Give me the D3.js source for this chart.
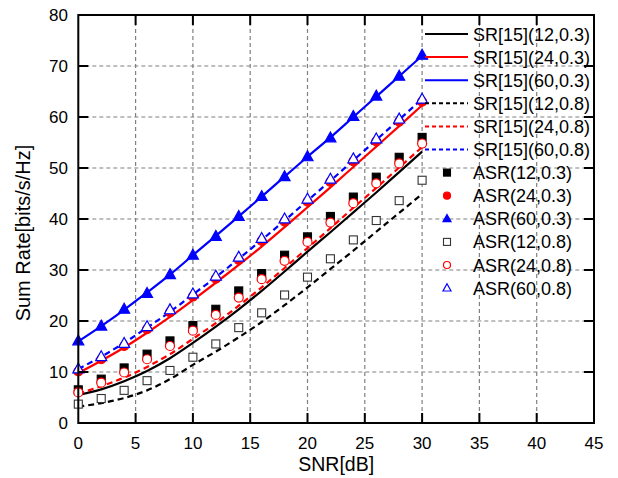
<!DOCTYPE html>
<html>
<head>
<meta charset="utf-8">
<script src="https://cdn.jsdelivr.net/npm/d3@7"></script>
<style>
  body { margin: 0; background: #fff; }
  text { font-family: "Liberation Sans", Arial, sans-serif; fill: #000; }
</style>
</head>
<body>
<div id="chart"></div>
<script>
// SNR points (dB)
var snr = [0, 2, 4, 6, 8, 10, 12, 14, 16, 18, 20, 22, 24, 26, 28, 30];

// analytic curves SR[15](N, rho)
var sr_12_03 = [5.5, 6.6, 8.2, 10.2, 12.7, 15.7, 18.9, 22.3, 25.9, 29.7, 33.6, 37.4, 41.3, 45.2, 49.2, 53.2];
var sr_24_03 = [9.8, 12.2, 14.8, 17.7, 20.8, 24.1, 27.5, 31.0, 34.6, 38.4, 42.3, 46.2, 50.2, 54.2, 58.2, 62.3];
var sr_60_03 = [16.0, 19.0, 22.2, 25.6, 29.1, 32.9, 36.7, 40.5, 44.4, 48.3, 52.2, 56.0, 60.0, 64.0, 68.0, 72.0];
var sr_12_08 = [3.2, 3.9, 4.9, 6.4, 8.6, 11.4, 14.0, 16.8, 19.8, 23.1, 26.6, 30.2, 33.8, 37.5, 41.2, 44.9];
var sr_24_08 = [5.8, 7.2, 8.9, 11.0, 13.5, 16.5, 19.6, 23.0, 26.6, 30.4, 34.3, 38.2, 42.2, 46.1, 50.1, 54.1];
var sr_60_08 = [10.6, 13.0, 15.7, 18.7, 21.8, 25.2, 28.6, 32.2, 35.9, 39.7, 43.6, 47.5, 51.5, 55.5, 59.5, 63.5];

// simulated points ASR(N, rho)
var asr_12_03 = [6.5, 8.6, 10.8, 13.5, 16.1, 19.1, 22.3, 25.9, 29.3, 32.9, 36.5, 40.5, 44.3, 48.2, 52.1, 56.0];
var asr_24_03 = [10.1, 12.5, 15.1, 18.4, 21.7, 24.8, 28.3, 32.0, 35.7, 39.5, 43.4, 47.3, 51.3, 55.2, 59.1, 63.0];
var asr_60_03 = [16.1, 19.0, 22.3, 25.4, 29.1, 32.9, 36.6, 40.5, 44.4, 48.3, 52.2, 55.9, 60.1, 64.1, 68.0, 72.1];
var asr_12_08 = [3.7, 4.8, 6.4, 8.3, 10.3, 12.9, 15.5, 18.7, 21.6, 25.1, 28.6, 32.2, 35.9, 39.7, 43.6, 47.6];
var asr_24_08 = [6.0, 7.9, 9.9, 12.5, 15.1, 18.1, 21.2, 24.6, 28.2, 31.8, 35.5, 39.3, 43.1, 47.0, 50.9, 54.8];
var asr_60_08 = [10.6, 13.0, 15.6, 18.9, 22.2, 25.3, 28.8, 32.5, 36.2, 40.0, 43.9, 47.8, 51.8, 55.7, 59.6, 63.5];

var xTicks = [0, 5, 10, 15, 20, 25, 30, 35, 40, 45];
var yTicks = [0, 10, 20, 30, 40, 50, 60, 70, 80];

var lineLabels = ['SR[15](12,0.3)', 'SR[15](24,0.3)', 'SR[15](60,0.3)',
                  'SR[15](12,0.8)', 'SR[15](24,0.8)', 'SR[15](60,0.8)'];
var markLabels = ['ASR(12,0.3)', 'ASR(24,0.3)', 'ASR(60,0.3)',
                  'ASR(12,0.8)', 'ASR(24,0.8)', 'ASR(60,0.8)'];

var lineSeries = [sr_12_03, sr_24_03, sr_60_03, sr_12_08, sr_24_08, sr_60_08];
var markSeries = [asr_12_03, asr_24_03, asr_60_03, asr_12_08, asr_24_08, asr_60_08];

// styles
var colors = ['#000', '#f00', '#0000ff'];
var markShapes = ['square', 'circle', 'triangle', 'square', 'circle', 'triangle'];

var width = 618, height = 478;
var pLeft = 78.3, pRight = 594, pTop = 15, pBottom = 423;

var svg = d3.select('#chart').append('svg')
  .attr('width', width)
  .attr('height', height);

var x = d3.scaleLinear().domain([0, 45]).range([pLeft, pRight]);
var y = d3.scaleLinear().domain([0, 80]).range([pBottom, pTop]);

// grid
var grid = svg.append('g');
grid.selectAll('line.vg').data(xTicks.slice(1, -1))
  .enter().append('line')
  .attr('x1', function (d) { return x(d); })
  .attr('x2', function (d) { return x(d); })
  .attr('y1', pTop).attr('y2', pBottom)
  .attr('stroke', '#808080').attr('stroke-width', 1.2)
  .attr('stroke-dasharray', '4,3');
grid.selectAll('line.hg').data(yTicks.slice(1, -1))
  .enter().append('line')
  .attr('y1', function (d) { return y(d); })
  .attr('y2', function (d) { return y(d); })
  .attr('x1', pLeft).attr('x2', pRight)
  .attr('stroke', '#808080').attr('stroke-width', 1.2)
  .attr('stroke-dasharray', '4,3');

// curves
var line = d3.line()
  .x(function (d, i) { return x(snr[i]); })
  .y(function (d) { return y(d); })
  .curve(d3.curveMonotoneX);

svg.append('g').selectAll('path').data(lineSeries)
  .enter().append('path')
  .attr('d', function (d) { return line(d); })
  .attr('fill', 'none')
  .attr('stroke', function (d, i) { return colors[i % 3]; })
  .attr('stroke-width', 2.2)
  .attr('stroke-dasharray', function (d, i) { return i < 3 ? null : '6,4'; });

// markers
function drawMark(g, shape, filled, color, cx, cy, s) {
  var fill = filled ? color : '#fff';
  if (shape === 'square') {
    g.append('rect')
      .attr('x', cx - s / 2).attr('y', cy - s / 2)
      .attr('width', s).attr('height', s)
      .attr('fill', fill).attr('stroke', filled ? color : '#333')
      .attr('stroke-width', 1.1);
  } else if (shape === 'circle') {
    g.append('circle')
      .attr('cx', cx).attr('cy', cy).attr('r', s / 2)
      .attr('fill', fill).attr('stroke', color)
      .attr('stroke-width', 1.2);
  } else {
    var h = s * 0.9;
    g.append('path')
      .attr('d', 'M' + cx + ',' + (cy - h * 0.6) +
                 'L' + (cx + s / 2) + ',' + (cy + h * 0.4) +
                 'L' + (cx - s / 2) + ',' + (cy + h * 0.4) + 'Z')
      .attr('fill', fill).attr('stroke', color)
      .attr('stroke-width', 1.2);
  }
}

var marks = svg.append('g');
markSeries.forEach(function (series, k) {
  series.forEach(function (v, i) {
    drawMark(marks, markShapes[k], k < 3, colors[k % 3], x(snr[i]), y(v),
      markShapes[k] === 'triangle' ? 11 : (markShapes[k] === 'circle' ? 9 : 8));
  });
});

// frame and ticks
svg.append('rect')
  .attr('x', pLeft).attr('y', pTop)
  .attr('width', pRight - pLeft).attr('height', pBottom - pTop)
  .attr('fill', 'none').attr('stroke', '#000').attr('stroke-width', 2);

var ticks = svg.append('g').attr('stroke', '#000').attr('stroke-width', 2);
xTicks.slice(1, -1).forEach(function (t) {
  ticks.append('line').attr('x1', x(t)).attr('x2', x(t)).attr('y1', pBottom).attr('y2', pBottom - 10);
  ticks.append('line').attr('x1', x(t)).attr('x2', x(t)).attr('y1', pTop).attr('y2', pTop + 10);
});
yTicks.slice(1, -1).forEach(function (t) {
  ticks.append('line').attr('y1', y(t)).attr('y2', y(t)).attr('x1', pLeft).attr('x2', pLeft + 10);
  ticks.append('line').attr('y1', y(t)).attr('y2', y(t)).attr('x1', pRight).attr('x2', pRight - 10);
});

// tick labels
svg.append('g').selectAll('text').data(xTicks)
  .enter().append('text')
  .attr('x', function (d) { return x(d); })
  .attr('y', 449)
  .attr('text-anchor', 'middle')
  .style('font-size', '17px')
  .text(function (d) { return d; });

svg.append('g').selectAll('text').data(yTicks)
  .enter().append('text')
  .attr('x', 68)
  .attr('y', function (d) { return y(d) + 6; })
  .attr('text-anchor', 'end')
  .style('font-size', '17px')
  .text(function (d) { return d; });

// axis titles
svg.append('text')
  .attr('x', (pLeft + pRight) / 2).attr('y', 471)
  .attr('text-anchor', 'middle')
  .style('font-size', '19.5px')
  .text('SNR[dB]');

svg.append('text')
  .attr('transform', 'translate(30,233) rotate(-90)')
  .attr('text-anchor', 'middle')
  .style('font-size', '20px')
  .text('Sum Rate[bits/s/Hz]');

// legend
var legend = svg.append('g');
var rowH = 23.1, row0 = 34;
lineLabels.forEach(function (lab, i) {
  var yy = row0 + i * rowH;
  legend.append('line')
    .attr('x1', 425).attr('x2', 468).attr('y1', yy).attr('y2', yy)
    .attr('stroke', colors[i % 3]).attr('stroke-width', 2)
    .attr('stroke-dasharray', i < 3 ? null : '4,3');
  legend.append('text')
    .attr('x', 473).attr('y', yy + 6.5)
    .style('font-size', '18px')
    .text(lab);
});
markLabels.forEach(function (lab, i) {
  var yy = row0 + (i + 6) * rowH;
  drawMark(legend, markShapes[i], i < 3, colors[i % 3], 447, yy,
    markShapes[i] === 'triangle' ? 8 : 7);
  legend.append('text')
    .attr('x', 473).attr('y', yy + 6.5)
    .style('font-size', '18px')
    .text(lab);
});
</script>
</body>
</html>
